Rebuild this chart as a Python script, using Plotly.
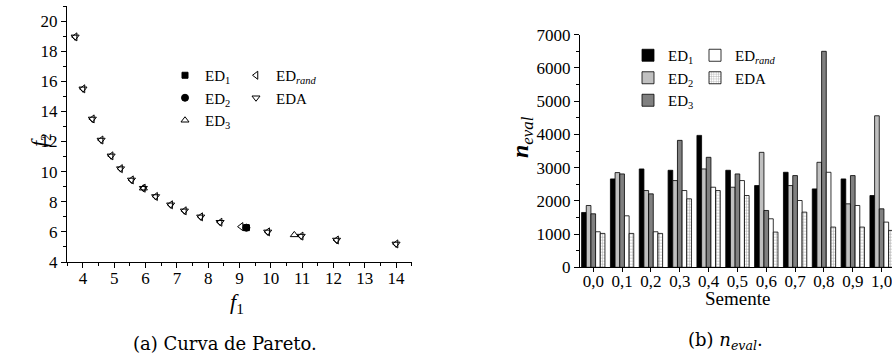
import plotly.graph_objects as go

# ---------------- Left chart data (Pareto curve) ----------------
ed1_f1 = [9.22]
ed1_f2 = [6.28]
ed2_f1 = [9.22]
ed2_f2 = [6.28]
ed3_f1 = [5.93, 10.75]
ed3_f2 = [8.9, 5.8]
edrand_f1 = [3.75, 4.0, 4.3, 4.58, 4.9, 5.2, 5.55, 5.93, 6.32, 6.8, 7.24, 7.76, 8.38, 9.05, 9.9, 10.97, 12.1, 14.0]
edrand_f2 = [18.95, 15.5, 13.5, 12.1, 11.05, 10.2, 9.45, 8.9, 8.35, 7.8, 7.4, 7.0, 6.64, 6.35, 6.0, 5.72, 5.46, 5.2]
eda_f1 = [3.75, 4.0, 4.3, 4.58, 4.9, 5.2, 5.55, 5.93, 6.32, 6.8, 7.24, 7.76, 8.38, 9.9, 10.97, 12.1, 14.0]
eda_f2 = [18.95, 15.5, 13.5, 12.1, 11.05, 10.2, 9.45, 8.9, 8.35, 7.8, 7.4, 7.0, 6.64, 6.0, 5.72, 5.46, 5.2]

# ---------------- Right chart data (n_eval) ----------------
sementes = ["0,0", "0,1", "0,2", "0,3", "0,4", "0,5", "0,6", "0,7", "0,8", "0,9", "1,0"]
neval_ed1 = [1650, 2660, 2960, 2920, 3970, 2920, 2460, 2860, 2360, 2660, 2160]
neval_ed2 = [1860, 2850, 2310, 2610, 2960, 2410, 3460, 2460, 3160, 1910, 4560]
neval_ed3 = [1610, 2810, 2210, 3820, 3310, 2810, 1710, 2760, 6500, 2760, 1760]
neval_edrand = [1070, 1550, 1070, 2310, 2410, 2610, 1460, 2010, 2860, 1860, 1360]
neval_eda = [1020, 1020, 1020, 2060, 2310, 2160, 1060, 1660, 1210, 1210, 1110]

FONT = "Liberation Serif"
OFF = 0               # page body margin removed by post_script
W, H = 892, 363

def px_x(p):
    return (p - OFF) / W

def px_y(p):
    return 1 - (p - OFF) / H

fig = go.Figure()

# Left scatter traces
mk = dict(color="black", size=7, line=dict(color="black", width=1))
fig.add_trace(go.Scatter(x=ed1_f1, y=ed1_f2, mode="markers", name="ED<sub>1</sub>",
                         marker=dict(mk, symbol="square", size=6), xaxis="x", yaxis="y", legend="legend"))
fig.add_trace(go.Scatter(x=ed2_f1, y=ed2_f2, mode="markers", name="ED<sub>2</sub>",
                         marker=dict(mk, symbol="circle"), xaxis="x", yaxis="y", legend="legend"))
fig.add_trace(go.Scatter(x=ed3_f1, y=ed3_f2, mode="markers", name="ED<sub>3</sub>",
                         marker=dict(mk, symbol="triangle-up-open"), xaxis="x", yaxis="y", legend="legend"))
fig.add_trace(go.Scatter(x=edrand_f1, y=edrand_f2, mode="markers", name="ED<sub><i>rand</i></sub>",
                         marker=dict(mk, symbol="triangle-left-open"), xaxis="x", yaxis="y", legend="legend2"))
fig.add_trace(go.Scatter(x=eda_f1, y=eda_f2, mode="markers", name="EDA",
                         marker=dict(mk, symbol="triangle-down-open"), xaxis="x", yaxis="y", legend="legend2"))

# Right bar traces
bl = dict(color="black", width=0.8)
fig.add_trace(go.Bar(x=sementes, y=neval_ed1, name="ED<sub>1</sub>", marker=dict(color="black", line=bl),
                     xaxis="x2", yaxis="y2", legend="legend3"))
fig.add_trace(go.Bar(x=sementes, y=neval_ed2, name="ED<sub>2</sub>", marker=dict(color="#c0c0c0", line=bl),
                     xaxis="x2", yaxis="y2", legend="legend3"))
fig.add_trace(go.Bar(x=sementes, y=neval_ed3, name="ED<sub>3</sub>", marker=dict(color="#808080", line=bl),
                     xaxis="x2", yaxis="y2", legend="legend3"))
fig.add_trace(go.Bar(x=sementes, y=neval_edrand, name="ED<sub><i>rand</i></sub>", marker=dict(color="white", line=bl),
                     xaxis="x2", yaxis="y2", legend="legend4"))
fig.add_trace(go.Bar(x=sementes, y=neval_eda, name="EDA",
                     marker=dict(color="white", line=bl,
                                 pattern=dict(shape="+", fgcolor="#505050", bgcolor="white", size=3, solidity=0.3)),
                     xaxis="x2", yaxis="y2", legend="legend4"))

tf = dict(family=FONT, size=17, color="black")
axcommon = dict(showline=True, linecolor="black", linewidth=1, ticks="outside", tickcolor="black",
                ticklen=5, tickwidth=1, showgrid=False, zeroline=False, mirror=False, automargin=False,
                tickfont=tf)

legfont = dict(family=FONT, size=15, color="black")
fig.update_layout(
    width=W, height=H,
    margin=dict(l=0, r=0, t=0, b=0, pad=0, autoexpand=False),
    paper_bgcolor="white", plot_bgcolor="white",
    font=dict(family=FONT, color="black", size=17),
    barmode="group", bargap=0.19, bargroupgap=0,
    xaxis=dict(axcommon, domain=[px_x(67), px_x(411.7)], range=[3.49, 14.5], dtick=1, tick0=0,
               ticklabelstandoff=-4,
               minor=dict(dtick=0.5, ticks="outside", ticklen=3, tickcolor="black", showgrid=False),
               anchor="y"),
    yaxis=dict(axcommon, domain=[px_y(262), px_y(6)], range=[4, 21], dtick=2, tick0=0,
               minor=dict(dtick=1, ticks="outside", ticklen=3, tickcolor="black", showgrid=False),
               anchor="x"),
    xaxis2=dict(axcommon, domain=[px_x(580), 1.0], range=[-0.46, 10.36], type="category",
                ticklen=4, ticklabelstandoff=-6, anchor="y2"),
    yaxis2=dict(axcommon, domain=[px_y(267.3), px_y(34.7)], range=[0, 7000], dtick=1000,
                minor=dict(dtick=500, ticks="outside", ticklen=3, tickcolor="black", showgrid=False),
                anchor="x2"),
    legend=dict(x=px_x(165), y=px_y(59), xanchor="left", yanchor="top", bgcolor="rgba(0,0,0,0)",
                font=legfont, tracegroupgap=0),
    legend2=dict(x=px_x(236), y=px_y(59), xanchor="left", yanchor="top", bgcolor="rgba(0,0,0,0)",
                 font=legfont, tracegroupgap=0),
    legend3=dict(x=px_x(628), y=px_y(39), xanchor="left", yanchor="top", bgcolor="rgba(0,0,0,0)",
                 font=legfont, tracegroupgap=0),
    legend4=dict(x=px_x(695), y=px_y(39), xanchor="left", yanchor="top", bgcolor="rgba(0,0,0,0)",
                 font=legfont, tracegroupgap=0),
    showlegend=True,
)

ann = [
    dict(text="<i>f</i><sub>2</sub>", x=px_x(40), y=px_y(140), textangle=-90, font=dict(size=22)),
    dict(text="<i>f</i><sub>1</sub>", x=px_x(237), y=px_y(303), font=dict(size=22)),
    dict(text="<b><i>n</i></b><sub><i>eval</i></sub>", x=px_x(522), y=px_y(137), textangle=-90, font=dict(size=24)),
    dict(text="Semente", x=px_x(737), y=px_y(298), font=dict(size=19)),
    dict(text="(a) Curva de Pareto.", x=px_x(225), y=px_y(343), font=dict(size=18, family="DejaVu Serif")),
    dict(text="(b) <i>n</i><sub><i>eval</i></sub>.", x=px_x(725), y=px_y(341), font=dict(size=18, family="DejaVu Serif")),
]
for a in ann:
    fig.add_annotation(xref="paper", yref="paper", showarrow=False, xanchor="center", yanchor="middle",
                       font=dict(a["font"], color="black", family=a["font"].get("family", FONT)),
                       text=a["text"], x=a["x"], y=a["y"], textangle=a.get("textangle", 0))

fig.write_html("out.html", config={"displayModeBar": False},
               post_script="document.body.style.margin='0';document.body.style.overflow='hidden';")
